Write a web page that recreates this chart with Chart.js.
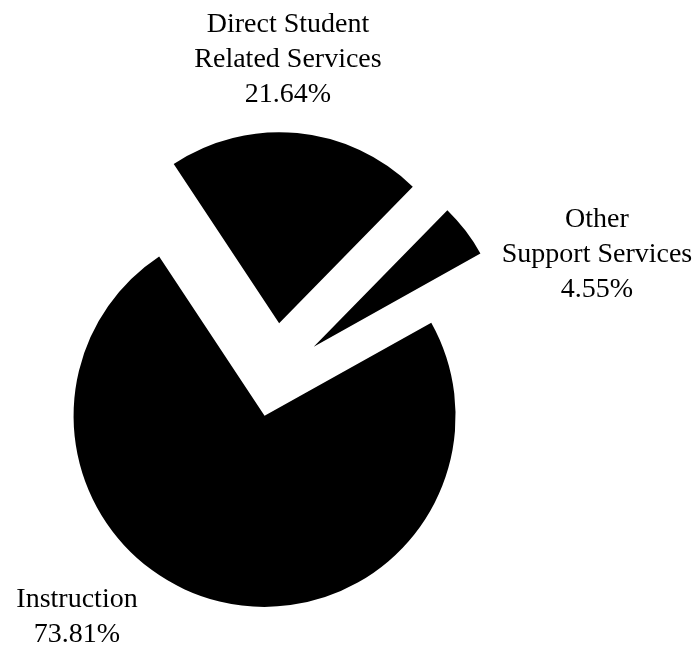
<!DOCTYPE html>
<html>
<head>
<meta charset="utf-8">
<script src="https://cdn.jsdelivr.net/npm/chart.js@4.4.1/dist/chart.umd.min.js"></script>
<style>
  html, body { margin: 0; padding: 0; background: #fff; }
  #wrap { width: 699px; height: 647px; }
</style>
</head>
<body>
<div id="wrap"><canvas id="pie" width="699" height="647"></canvas></div>
<script>
/* ==========================
   DATA
========================== */
const categories = ["Direct Student Related Services", "Other Support Services", "Instruction"];
const shares = [21.64, 4.55, 73.81];
const labelLines = [
    ["Direct Student", "Related Services", "21.64%"],
    ["Other", "Support Services", "4.55%"],
    ["Instruction", "73.81%"]
];

/* ==========================
   STYLE
========================== */
// how far each slice is pulled out from the centre (px)
const explode = [54, 50, 40];
// centre x and first baseline of each label block
const labelAnchor = [[288, 32], [597, 227], [77, 607]];
const lineGap = 35;
const labelFont = "28px 'Liberation Serif', 'Times New Roman', serif";

/* ==========================
   PLUGINS
========================== */
// push every slice outwards along its own mid angle, radius unchanged
const explodePlugin = {
    id: "explodeSlices",
    afterDatasetsUpdate(chart) {
        const meta = chart.getDatasetMeta(0);
        meta.data.forEach((arc, i) => {
            const mid = (arc.startAngle + arc.endAngle) / 2;
            arc.x += Math.cos(mid) * explode[i];
            arc.y += Math.sin(mid) * explode[i];
        });
    }
};

const labelPlugin = {
    id: "sliceLabels",
    afterDraw(chart) {
        const ctx = chart.ctx;
        ctx.save();
        ctx.font = labelFont;
        ctx.fillStyle = "#000";
        ctx.textAlign = "center";
        ctx.textBaseline = "alphabetic";
        labelLines.forEach((lines, i) => {
            const [x, y] = labelAnchor[i];
            lines.forEach((t, j) => ctx.fillText(t, x, y + j * lineGap));
        });
        ctx.restore();
    }
};

/* ==========================
   CHART
========================== */
new Chart(document.getElementById("pie"), {
    type: "pie",
    data: {
        labels: categories,
        datasets: [{
            data: shares,
            backgroundColor: ["#000", "#000", "#000"],
            borderWidth: 0
        }]
    },
    options: {
        responsive: false,
        animation: false,
        rotation: -33.5,
        radius: 191,
        layout: { padding: { left: 0, right: 151, top: 107, bottom: 0 } },
        plugins: {
            legend: { display: false },
            tooltip: { enabled: false }
        },
        events: []
    },
    plugins: [explodePlugin, labelPlugin]
});
</script>
</body>
</html>
